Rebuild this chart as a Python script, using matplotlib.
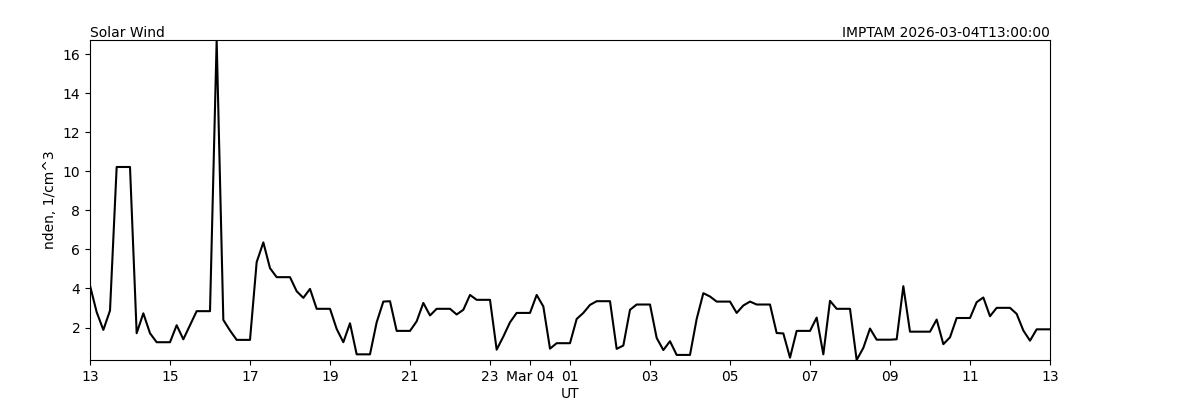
import numpy as np
import pandas as pd
import matplotlib
matplotlib.use("Agg")
import matplotlib.pyplot as plt
import matplotlib.dates as mdates

start_time = "2026-03-03T13:00:00"
step_minutes = 10
nden = [
    4.15, 2.79, 1.88, 2.87, 10.22, 10.22, 10.22, 1.71, 2.73, 1.71,
    1.25, 1.25, 1.25, 2.12, 1.40, 2.12, 2.84, 2.84, 2.84, 16.72,
    2.39, 1.85, 1.37, 1.37, 1.37, 5.35, 6.36, 5.04, 4.58, 4.58,
    4.58, 3.86, 3.52, 3.98, 2.96, 2.96, 2.96, 1.93, 1.25, 2.22,
    0.63, 0.63, 0.63, 2.27, 3.33, 3.35, 1.83, 1.83, 1.83, 2.32,
    3.26, 2.62, 2.96, 2.96, 2.96, 2.67, 2.91, 3.67, 3.42, 3.42,
    3.42, 0.87, 1.54, 2.27, 2.75, 2.75, 2.75, 3.67, 3.08, 0.92,
    1.20, 1.20, 1.20, 2.44, 2.75, 3.16, 3.35, 3.35, 3.35, 0.91,
    1.08, 2.91, 3.18, 3.18, 3.18, 1.47, 0.85, 1.30, 0.60, 0.60,
    0.60, 2.44, 3.76, 3.59, 3.33, 3.33, 3.33, 2.75, 3.13, 3.33,
    3.18, 3.18, 3.18, 1.72, 1.70, 0.46, 1.83, 1.83, 1.83, 2.51,
    0.63, 3.37, 2.96, 2.96, 2.96, 0.34, 0.96, 1.95, 1.38, 1.38,
    1.38, 1.40, 4.12, 1.79, 1.79, 1.79, 1.79, 2.41, 1.15, 1.50,
    2.49, 2.49, 2.49, 3.30, 3.54, 2.58, 3.01, 3.01, 3.01, 2.70,
    1.85, 1.33, 1.91, 1.91, 1.91,
]
times = pd.date_range(start_time, periods=len(nden), freq=f"{step_minutes}min")

fig = plt.figure(figsize=(12, 4), dpi=100)
ax = fig.add_axes([0.075, 0.1, 0.8, 0.8])
ax.plot(times, nden, color="black", linewidth=1.5)
ax.set_xlim(times[0], times[-1])
ax.set_ylim(min(nden), max(nden))

ax.xaxis.set_major_locator(mdates.HourLocator(byhour=[0] + list(range(1, 24, 2))))

def fmt(x, pos=None):
    d = mdates.num2date(x)
    if d.hour == 0 and d.minute == 0:
        return d.strftime("%b %d")
    return d.strftime("%H")

ax.xaxis.set_major_formatter(plt.FuncFormatter(fmt))
ax.set_xlabel("UT", labelpad=2)
ax.set_ylabel("nden, 1/cm^3")
ax.set_title("Solar Wind", loc="left", fontsize=10, pad=2)
ax.set_title("IMPTAM 2026-03-04T13:00:00", loc="right", fontsize=10, pad=2)

fig.savefig("out.png", dpi=100)
